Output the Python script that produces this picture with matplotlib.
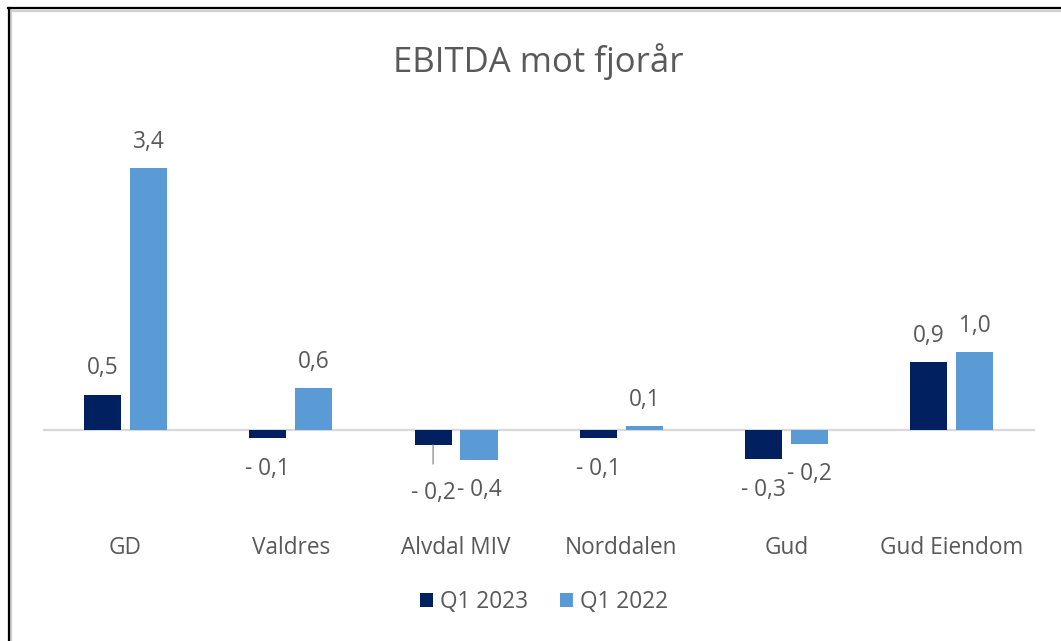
import matplotlib
matplotlib.use('Agg')
import matplotlib.pyplot as plt
from matplotlib.lines import Line2D
from matplotlib.patches import Patch
import numpy as np

plt.rcParams['font.family'] = ['Open Sans', 'DejaVu Sans']

# data (MNOK)
categories = ['GD', 'Valdres', 'Alvdal MIV', 'Norddalen', 'Gud', 'Gud Eiendom']
q1_2023 = [0.46, -0.11, -0.20, -0.11, -0.38, 0.89]
q1_2022 = [3.42, 0.55, -0.39, 0.05, -0.18, 1.02]
labels_2023 = ['0,5', '- 0,1', '- 0,2', '- 0,1', '- 0,3', '0,9']
labels_2022 = ['3,4', '0,6', '- 0,4', '0,1', '- 0,2', '1,0']
series_names = ['Q1 2023', 'Q1 2022']

DARK = '#002060'
LIGHT = '#5B9BD5'
TXT = '#595959'
GRID = '#D9D9D9'

W, H = 1061, 641
fig = plt.figure(figsize=(W / 100, H / 100), dpi=100)

# plot area in pixels (left, top, right, bottom)
left_px, top_px, right_px, bot_px = 42.9, 100, 1034.5, 510
ax = fig.add_axes([left_px / W, 1 - bot_px / H,
                   (right_px - left_px) / W, (bot_px - top_px) / H])

px_per_unit = 76.5
zero_px = 430
ax.set_ylim(-(bot_px - zero_px) / px_per_unit, (zero_px - top_px) / px_per_unit)
ax.set_xlim(-0.5, len(categories) - 0.5)

x = np.arange(len(categories))
bw = 0.225
off = 0.139
b1 = ax.bar(x - off, q1_2023, bw, color=DARK, zorder=3)
b2 = ax.bar(x + off, q1_2022, bw, color=LIGHT, zorder=3)

ax.axhline(0, color=GRID, lw=1.6, zorder=2)

for s in ax.spines.values():
    s.set_visible(False)
ax.set_yticks([])
ax.set_xticks(x)
ax.set_xticklabels(categories, fontsize=16.3, color=TXT)
ax.tick_params(axis='x', length=0, pad=19)

def put_labels(bars, texts, extra=None):
    for i, (bar, t) in enumerate(zip(bars, texts)):
        v = bar.get_height()
        cx = bar.get_x() + bar.get_width() / 2
        if v >= 0:
            ax.annotate(t, (cx, v), xytext=(0, 19), textcoords='offset points',
                        ha='center', va='center', fontsize=16.3, color=TXT)
        else:
            dy = 22
            if extra and i in extra:
                dy = extra[i]
                ax.annotate(t, (cx, v), xytext=(0, -dy), textcoords='offset points',
                            ha='center', va='center', fontsize=16.3, color=TXT,
                            arrowprops=dict(arrowstyle='-', color='#A6A6A6', lw=1.2,
                                            shrinkA=10, shrinkB=0))
            else:
                ax.annotate(t, (cx, v), xytext=(0, -dy), textcoords='offset points',
                            ha='center', va='center', fontsize=16.3, color=TXT)

put_labels(b1, labels_2023, extra={2: 34})
put_labels(b2, labels_2022)

fig.text(538 / W, 1 - 72.5 / H, 'EBITDA mot fjorår', ha='center', va='baseline',
         fontsize=25, color=TXT)

handles = [Patch(facecolor=DARK), Patch(facecolor=LIGHT)]
fig.legend(handles, series_names, loc='center', bbox_to_anchor=(544 / W, 1 - 602 / H),
           ncol=2, frameon=False, fontsize=16.3, labelcolor=TXT,
           handlelength=0.6, handleheight=0.6, handletextpad=0.3, columnspacing=1.4)

# frame around the screenshot (top and left edges only)
fig.add_artist(Line2D([10 / W, 1], [1 - 10.5 / H] * 2, color='#D0D0D0', lw=1.6))
fig.add_artist(Line2D([11 / W] * 2, [0, 1 - 9 / H], color='#D0D0D0', lw=1.6))
fig.add_artist(Line2D([8 / W, 1], [1 - 8 / H] * 2, color='black', lw=1.6))
fig.add_artist(Line2D([9 / W] * 2, [0, 1 - 7.5 / H], color='black', lw=1.6))

fig.savefig('out.png', dpi=100, facecolor='white')
